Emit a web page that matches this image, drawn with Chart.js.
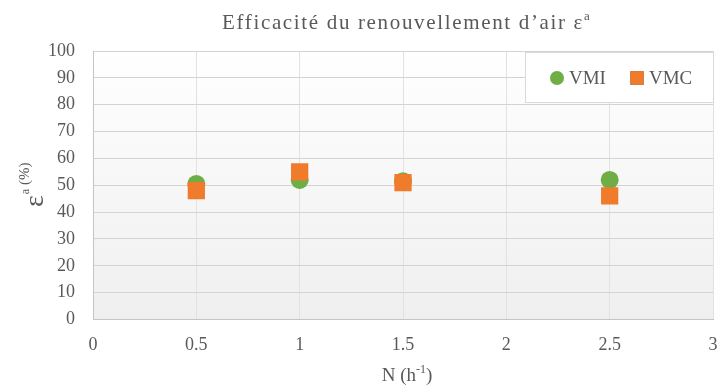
<!DOCTYPE html>
<html>
<head>
<meta charset="utf-8">
<title>Efficacité du renouvellement d'air</title>
<script src="https://cdn.jsdelivr.net/npm/chart.js@4"></script>
<style>
  html, body { margin: 0; padding: 0; background: #fff; }
  #wrap { width: 720px; height: 385px; }
</style>
</head>
<body>
<div id="wrap"><canvas id="myChart"></canvas></div>
<script>
// air change rate N (h-1)
var rates = [0.5, 1, 1.5, 2.5];
// efficiency values (%)
var vmiValues = [50.5, 52, 51.5, 52];
var vmcValues = [48, 55, 51, 46];
var xTicks = [0, 0.5, 1, 1.5, 2, 2.5, 3];
var yTicks = [0, 10, 20, 30, 40, 50, 60, 70, 80, 90, 100];

var serif = "'Liberation Serif', 'DejaVu Serif', serif";
var textColor = '#595959';

function toPoints(values) {
  return rates.map(function (r, i) { return { x: r, y: values[i] }; });
}

// plot background: white at the top fading to light grey
var areaBackground = {
  id: 'areaBackground',
  beforeDraw: function (chart) {
    var a = chart.chartArea, ctx = chart.ctx;
    var g = ctx.createLinearGradient(0, a.top, 0, a.bottom);
    g.addColorStop(0, '#ffffff');
    g.addColorStop(1, '#efefef');
    ctx.save();
    ctx.fillStyle = g;
    ctx.fillRect(a.left, a.top, a.right - a.left, a.bottom - a.top);
    ctx.restore();
  }
};

// title, axis titles with superscripts, and the boxed legend
var labels = {
  id: 'labels',
  afterDraw: function (chart) {
    var ctx = chart.ctx, a = chart.chartArea;
    var cx = (a.left + a.right) / 2;
    ctx.save();
    ctx.fillStyle = textColor;
    ctx.textBaseline = 'alphabetic';
    ctx.textAlign = 'left';

    // chart title, spaced out to 371px
    var main = 'Efficacité du renouvellement d’air ε';
    ctx.font = '21px ' + serif;
    var raw = ctx.measureText(main).width;
    var spacing = (362 - raw) / main.length;
    ctx.letterSpacing = spacing.toFixed(2) + 'px';
    var w1 = ctx.measureText(main).width;
    ctx.fillText(main, 222, 29);
    ctx.letterSpacing = '0px';
    ctx.font = '13px ' + serif;
    ctx.fillText('a', 222 + w1, 20);

    // x axis title
    ctx.font = '19px ' + serif;
    var n1 = 'N (h', n3 = ')';
    var wa = ctx.measureText(n1).width, wc = ctx.measureText(n3).width;
    ctx.font = '12px ' + serif;
    var wb = ctx.measureText('-1').width;
    var xs = cx + 4 - (wa + wb + wc) / 2;
    ctx.font = '19px ' + serif;
    ctx.fillText(n1, xs, 381);
    ctx.font = '12px ' + serif;
    ctx.fillText('-1', xs + wa, 373);
    ctx.font = '19px ' + serif;
    ctx.fillText(n3, xs + wa + wb, 381);

    // y axis title, rotated
    var cy = (a.top + a.bottom) / 2;
    ctx.translate(43, cy);
    ctx.rotate(-Math.PI / 2);
    ctx.font = '28px ' + serif;
    var we = ctx.measureText('ε').width;
    ctx.font = '12px ' + serif;
    var wsa = ctx.measureText('a').width;
    ctx.font = '15px ' + serif;
    var wp = ctx.measureText(' (%)').width;
    var start = -(we + wsa + wp) / 2;
    ctx.font = '28px ' + serif;
    ctx.fillText('ε', start, 0);
    ctx.font = '12px ' + serif;
    ctx.fillText('a', start + we + 1, -14);
    ctx.font = '15px ' + serif;
    ctx.fillText(' (%)', start + we + wsa + 1, -14);
    ctx.restore();

    // legend box inside the plot
    ctx.save();
    ctx.fillStyle = '#ffffff';
    ctx.strokeStyle = '#d9d9d9';
    ctx.lineWidth = 1;
    ctx.fillRect(525.5, 52.5, 188, 50);
    ctx.strokeRect(525.5, 52.5, 188, 50);
    ctx.font = '19px ' + serif;
    ctx.textBaseline = 'middle';
    var itemX = [557, 637];
    chart.data.datasets.forEach(function (ds, i) {
      Chart.helpers.drawPoint(ctx, {
        pointStyle: ds.pointStyle,
        radius: ds.pointStyle === 'rect' ? 9.5 : 7,
        borderWidth: 0
      }, itemX[i], 78);
      ctx.fillStyle = ds.backgroundColor;
      ctx.fill();
      ctx.fillStyle = textColor;
      ctx.fillText(ds.label, itemX[i] + 12, 79);
    });
    ctx.restore();
  }
};

var ctx = document.getElementById('myChart').getContext('2d');
var chart = new Chart(ctx, {
  type: 'scatter',
  data: {
    datasets: [{
      label: 'VMI',
      data: toPoints(vmiValues),
      pointStyle: 'circle',
      pointRadius: 9,
      backgroundColor: '#6fae46',
      borderColor: '#6fae46',
      borderWidth: 0,
      order: 1
    }, {
      label: 'VMC',
      data: toPoints(vmcValues),
      pointStyle: 'rect',
      pointRadius: 12.2,
      backgroundColor: '#f07b2a',
      borderColor: '#f07b2a',
      borderWidth: 0,
      order: 0
    }]
  },
  options: {
    responsive: true,
    maintainAspectRatio: false,
    animation: false,
    events: [],
    layout: {
      autoPadding: false,
      padding: { top: 51, right: 7, left: 0, bottom: 0 }
    },
    plugins: {
      legend: { display: false },
      title: { display: false },
      tooltip: { enabled: false }
    },
    scales: {
      x: {
        type: 'linear',
        min: 0,
        max: 3,
        afterBuildTicks: function (scale) {
          scale.ticks = xTicks.map(function (v) { return { value: v }; });
        },
        afterFit: function (scale) {
          scale.height = 65.5;
          scale.paddingLeft = 0;
          scale.paddingRight = 0;
        },
        grid: { color: '#e2e2e2', drawTicks: false },
        border: { color: '#c4c4c4' },
        ticks: {
          padding: 15,
          color: textColor,
          font: { family: serif, size: 18 },
          callback: function (v) { return String(v); }
        }
      },
      y: {
        min: 0,
        max: 100,
        afterBuildTicks: function (scale) {
          scale.ticks = yTicks.map(function (v) { return { value: v }; });
        },
        afterFit: function (scale) {
          scale.width = 93;
          scale.paddingTop = 0;
          scale.paddingBottom = 0;
        },
        grid: { color: '#d3d3d3', drawTicks: false },
        border: { color: '#c4c4c4' },
        ticks: {
          padding: 18,
          color: textColor,
          font: { family: serif, size: 18 }
        }
      }
    }
  },
  plugins: [areaBackground, labels]
});
</script>
</body>
</html>
